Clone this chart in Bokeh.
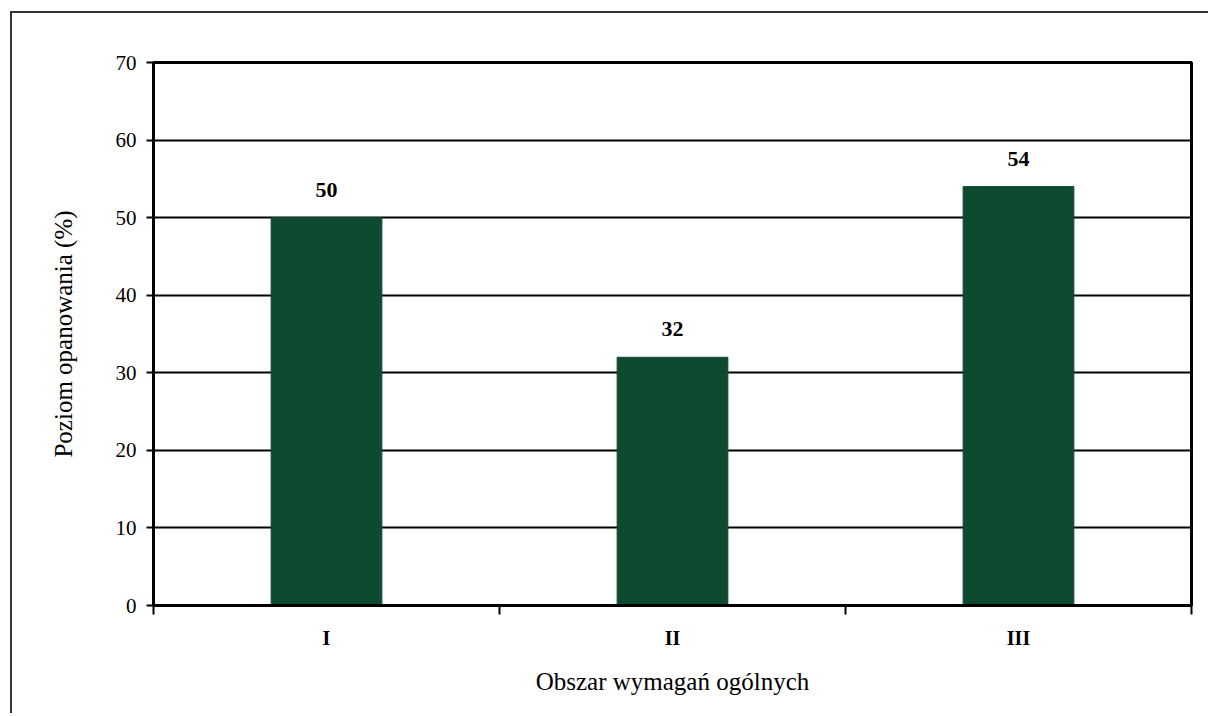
from bokeh.plotting import figure
from bokeh.models import FixedTicker, ColumnDataSource, Range1d
from bokeh.core.properties import value
from bokeh.embed import file_html
from bokeh.resources import INLINE

categories = ["I", "II", "III"]
values = [50, 32, 54]
y_ticks = [0, 10, 20, 30, 40, 50, 60, 70]

FONT = "Liberation Serif"
BAR = "#0e4a30"

xs = [i + 0.5 for i in range(len(categories))]
src = ColumnDataSource(dict(x=xs, top=values, label=[str(v) for v in values]))

p = figure(width=1196, height=700, output_backend="svg", toolbar_location=None,
           x_range=Range1d(0, len(categories)), y_range=Range1d(0, 70),
           frame_width=1038, frame_height=543,
           min_border_left=141, min_border_top=49, min_border_right=17, min_border_bottom=108)
p.styles = {"border-top": "2px solid #333", "border-left": "2px solid #333"}
p.margin = (11, 0, 0, 10)
p.background_fill_color = "white"
p.border_fill_color = "white"
p.outline_line_color = "black"
p.outline_line_width = 3

p.vbar(x="x", top="top", width=0.32, bottom=0, source=src, color=BAR)
p.text(x="x", y="top", text="label", source=src, y_offset=-21,
       text_align="center", text_baseline="bottom",
       text_font=value(FONT), text_font_style="bold", text_font_size="22px",
       text_color="black")

# grid
p.xgrid.grid_line_color = None
p.ygrid.ticker = FixedTicker(ticks=y_ticks)
p.ygrid.grid_line_color = "black"
p.ygrid.grid_line_width = 2

# y axis
ya = p.yaxis[0]
ya.ticker = FixedTicker(ticks=y_ticks)
ya.axis_line_width = 3
ya.axis_line_color = "black"
ya.major_tick_in = 0
ya.major_tick_out = 7
ya.major_tick_line_width = 2
ya.minor_tick_line_color = None
ya.major_label_text_font = FONT
ya.major_label_text_font_size = "21px"
ya.major_label_text_color = "black"
ya.major_label_standoff = 10
ya.axis_label = "Poziom opanowania (%)"
ya.axis_label_text_font = FONT
ya.axis_label_text_font_size = "25px"
ya.axis_label_text_font_style = "normal"
ya.axis_label_text_color = "black"
ya.axis_label_standoff = 36

# x axis
xa = p.xaxis[0]
xa.ticker = FixedTicker(ticks=xs, minor_ticks=[float(i) for i in range(len(categories) + 1)])
xa.major_label_overrides = {x: c for x, c in zip(xs, categories)}
xa.axis_line_width = 3
xa.axis_line_color = "black"
xa.major_tick_line_color = None
xa.major_tick_in = 0
xa.major_tick_out = 0
xa.minor_tick_in = 0
xa.minor_tick_out = 9
xa.minor_tick_line_width = 2
xa.minor_tick_line_color = "black"
xa.major_label_text_font = FONT
xa.major_label_text_font_size = "20px"
xa.major_label_text_font_style = "bold"
xa.major_label_text_color = "black"
xa.major_label_standoff = 12
xa.axis_label = "Obszar wymagań ogólnych"
xa.axis_label_text_font = FONT
xa.axis_label_text_font_size = "25px"
xa.axis_label_text_font_style = "normal"
xa.axis_label_text_color = "black"
xa.axis_label_standoff = 16

html = file_html(p, INLINE)
open("out.html", "w").write(html)
